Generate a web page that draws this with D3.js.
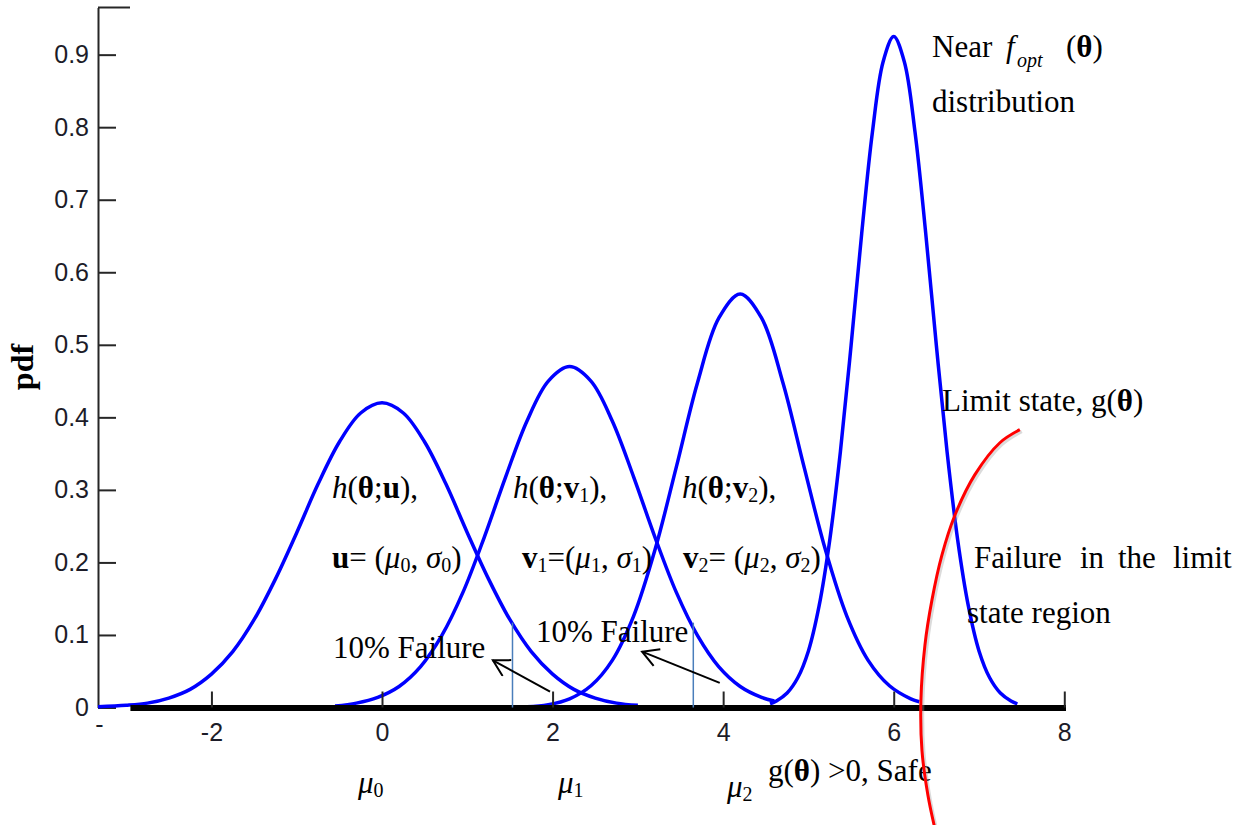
<!DOCTYPE html>
<html>
<head>
<meta charset="utf-8">
<script src="https://cdn.jsdelivr.net/npm/d3@7"></script>
<style>
  body { margin: 0; background: #fff; }
  svg { display: block; }
  .tick-label { font-family: "Liberation Sans", Arial, sans-serif; font-size: 25px; fill: #1c1c28; }
  .ann { font-family: "Liberation Serif", "Times New Roman", serif; font-size: 31px; fill: #000; }
</style>
</head>
<body>
<div id="viz"></div>
<script>
// tick values
const xTicks = [-2, 0, 2, 4, 6, 8];
const yTicks = [0, 0.1, 0.2, 0.3, 0.4, 0.5, 0.6, 0.7, 0.8, 0.9];

// h(theta; u)
const thetaU = [-3.33, -3, -2.75, -2.5, -2.25, -2, -1.75, -1.5, -1.25, -1, -0.75, -0.5, -0.25, 0,
  0.25, 0.5, 0.75, 1, 1.25, 1.5, 1.75, 2, 2.25, 2.5, 2.75, 3];
const pdfU = [0.001, 0.003, 0.006, 0.013, 0.025, 0.046, 0.077, 0.121, 0.177, 0.241, 0.308, 0.366, 0.406, 0.42,
  0.406, 0.366, 0.308, 0.241, 0.177, 0.121, 0.077, 0.046, 0.025, 0.013, 0.006, 0.003];

// h(theta; v1)
const thetaV1 = [-0.55, -0.3, -0.05, 0.2, 0.45, 0.7, 0.95, 1.2, 1.45, 1.7, 1.95, 2.2,
  2.45, 2.7, 2.95, 3.2, 3.45, 3.7, 3.95, 4.2, 4.45, 4.6];
const pdfV1 = [0.002, 0.006, 0.014, 0.029, 0.056, 0.099, 0.159, 0.235, 0.318, 0.395, 0.45, 0.47,
  0.45, 0.395, 0.318, 0.235, 0.159, 0.099, 0.056, 0.029, 0.014, 0.009];

// h(theta; v2)
const thetaV2 = [1.6, 1.7, 1.95, 2.2, 2.45, 2.7, 2.95, 3.2, 3.45, 3.7, 3.95, 4.2,
  4.45, 4.7, 4.95, 5.2, 5.45, 5.7, 5.95, 6.2, 6.3];
const pdfV2 = [0.001, 0.001, 0.004, 0.012, 0.03, 0.065, 0.126, 0.217, 0.331, 0.448, 0.537, 0.57,
  0.537, 0.448, 0.331, 0.217, 0.126, 0.065, 0.03, 0.012, 0.008];

// near f_opt
const thetaOpt = [4.55, 4.625, 4.75, 4.875, 5, 5.125, 5.25, 5.375, 5.5, 5.625, 5.75, 5.875, 6,
  6.125, 6.25, 6.375, 6.5, 6.625, 6.75, 6.875, 7, 7.125, 7.25, 7.375, 7.45];
const pdfOpt = [0.005, 0.009, 0.02, 0.041, 0.078, 0.14, 0.231, 0.353, 0.499, 0.654, 0.793, 0.89, 0.925,
  0.89, 0.793, 0.654, 0.499, 0.353, 0.231, 0.14, 0.078, 0.041, 0.02, 0.009, 0.005];

// limit state g(theta) = 0 (hand drawn red curve)
const thetaLimit = [7.479, 7.245, 6.952, 6.717, 6.565, 6.448, 6.366, 6.319, 6.331, 6.401, 6.483];
const pdfLimit = [0.383, 0.365, 0.321, 0.265, 0.21, 0.148, 0.086, 0.01, -0.059, -0.121, -0.167];

// 10% failure thresholds
const failTheta = [1.53, 3.65];
const failTop = 0.117;

const W = 1252, H = 825;

const svg = d3.select('#viz').append('svg')
  .attr('width', W)
  .attr('height', H)
  .style('background', '#fff');

const x = d3.scaleLinear().domain([-3.33, 8.02]).range([98, 1066]);
const y = d3.scaleLinear().domain([0, 0.965]).range([707.5, 7.5]);

const zip = (a, b) => a.map((v, i) => [v, b[i]]);

const line = d3.line()
  .x(d => x(d[0]))
  .y(d => y(d[1]))
  .curve(d3.curveCatmullRom);

// arrow head
svg.append('defs').append('marker')
  .attr('id', 'arrow')
  .attr('viewBox', '0 0 20 20')
  .attr('refX', 18).attr('refY', 10)
  .attr('markerUnits', 'userSpaceOnUse')
  .attr('markerWidth', 20).attr('markerHeight', 20)
  .attr('orient', 'auto')
  .append('path')
  .attr('d', 'M2,1L18,10L2,19')
  .attr('fill', 'none')
  .attr('stroke', '#000')
  .attr('stroke-width', 2);

// y axis (ticks pointing inwards)
const yAxis = svg.append('g')
  .attr('transform', `translate(${x.range()[0]},0)`)
  .call(d3.axisLeft(y)
    .tickValues(yTicks)
    .tickSizeInner(-18)
    .tickSizeOuter(0)
    .tickPadding(9)
    .tickFormat(d => d === 0 ? '0' : d3.format('.1f')(d)));
yAxis.select('.domain').attr('stroke', '#262626').attr('stroke-width', 2);
yAxis.selectAll('.tick line').attr('stroke', '#262626').attr('stroke-width', 2);
yAxis.selectAll('.tick text').attr('class', 'tick-label').attr('font-size', null).attr('font-family', null);

// little bit of the top box edge that is left
svg.append('line')
  .attr('x1', x.range()[0]).attr('x2', x.range()[0] + 32)
  .attr('y1', y.range()[1]).attr('y2', y.range()[1])
  .attr('stroke', '#262626').attr('stroke-width', 2);

// pdf curves
const curves = [zip(thetaU, pdfU), zip(thetaV1, pdfV1), zip(thetaV2, pdfV2), zip(thetaOpt, pdfOpt)];
svg.append('g').selectAll('path')
  .data(curves)
  .enter()
  .append('path')
  .attr('d', line)
  .attr('fill', 'none')
  .attr('stroke', '#0000ff')
  .attr('stroke-width', 3.5)
  .attr('stroke-linejoin', 'round');

// thick base line
svg.append('line')
  .attr('x1', x(-2.95)).attr('x2', x(8.02))
  .attr('y1', y(0) + 0.5).attr('y2', y(0) + 0.5)
  .attr('stroke', '#000').attr('stroke-width', 6);

// x axis
const xAxis = svg.append('g')
  .attr('transform', `translate(0,${y(0)})`)
  .call(d3.axisBottom(x)
    .tickValues(xTicks)
    .tickSizeInner(-16)
    .tickSizeOuter(0)
    .tickPadding(16)
    .tickFormat(d => String(d)));
xAxis.select('.domain').remove();
xAxis.selectAll('.tick line').attr('stroke', '#262626').attr('stroke-width', 2);
xAxis.selectAll('.tick text').attr('class', 'tick-label').attr('font-size', null).attr('font-family', null);

svg.append('text').attr('class', 'tick-label')
  .attr('x', 99.5).attr('y', 733)
  .attr('text-anchor', 'middle')
  .text('-');

// axis title
svg.append('text')
  .attr('transform', 'translate(33,367) rotate(-90)')
  .attr('text-anchor', 'middle')
  .style('font-family', '"Liberation Serif", "Times New Roman", serif')
  .style('font-size', '32px')
  .style('font-weight', 'bold')
  .text('pdf');

// 10% failure thresholds
svg.append('g').selectAll('line')
  .data(failTheta)
  .enter()
  .append('line')
  .attr('x1', d => x(d)).attr('x2', d => x(d))
  .attr('y1', y(failTop)).attr('y2', y(0))
  .attr('stroke', '#4a7ebb')
  .attr('stroke-width', 1.5);

// arrows
const arrows = [[[1.97, 0.022], [1.30, 0.065]], [[3.96, 0.034], [3.05, 0.077]]];
svg.append('g').selectAll('line')
  .data(arrows)
  .enter()
  .append('line')
  .attr('x1', d => x(d[0][0])).attr('y1', d => y(d[0][1]))
  .attr('x2', d => x(d[1][0])).attr('y2', d => y(d[1][1]))
  .attr('stroke', '#000')
  .attr('stroke-width', 2)
  .attr('marker-end', 'url(#arrow)');

// rich text helper: parts = [text, flags]
function rich(px, py, parts) {
  const t = svg.append('text').attr('class', 'ann').attr('x', px).attr('y', py);
  let low = false;
  parts.forEach(([txt, f = '']) => {
    const s = t.append('tspan').text(txt);
    if (f.includes('i')) s.style('font-style', 'italic');
    if (f.includes('b')) s.style('font-weight', 'bold');
    if (f.includes('s')) {
      s.style('font-size', '20px');
      if (!low) s.attr('dy', 4);
      low = true;
    } else if (low) {
      s.attr('dy', -4);
      low = false;
    }
  });
  return t;
}

rich(932, 57, [['Near']]);
rich(1006, 57, [['f', 'i']]);
rich(1017, 63, [['opt', 'is']]);
rich(1066, 57, [['('], ['θ', 'b'], [')']]);
rich(932, 112, [['distribution']]);

rich(942, 411, [['Limit state, g('], ['θ', 'b'], [')']]);
rich(974, 568, [['Failure']]);
rich(1080, 568, [['in']]);
rich(1118, 568, [['the']]);
rich(1173, 568, [['limit']]);
rich(967, 623, [['state region']]);

rich(332, 498, [['h', 'i'], ['('], ['θ', 'b'], [';'], ['u', 'b'], ['),']]);
rich(332, 568, [['u', 'b'], ['= ('], ['μ', 'i'], ['0', 's'], [', '], ['σ', 'i'], ['0', 's'], [')']]);
rich(513, 498, [['h', 'i'], ['('], ['θ', 'b'], [';'], ['v', 'b'], ['1', 's'], ['),']]);
rich(522, 568, [['v', 'b'], ['1', 's'], ['=('], ['μ', 'i'], ['1', 's'], [', '], ['σ', 'i'], ['1', 's'], [')']]);
rich(682, 498, [['h', 'i'], ['('], ['θ', 'b'], [';'], ['v', 'b'], ['2', 's'], ['),']]);
rich(683, 568, [['v', 'b'], ['2', 's'], ['= ('], ['μ', 'i'], ['2', 's'], [', '], ['σ', 'i'], ['2', 's'], [')']]);

rich(333, 658, [['10% Failure']]);
rich(536, 642, [['10% Failure']]);

rich(358, 793, [['μ', 'i'], ['0', 's']]);
rich(558, 793, [['μ', 'i'], ['1', 's']]);
rich(727, 797, [['μ', 'i'], ['2', 's']]);
rich(768, 781, [['g('], ['θ', 'b'], [') >0, Safe']]);

// limit state curve with a faint shadow, drawn on top
const limitPts = zip(thetaLimit, pdfLimit);
svg.append('path')
  .attr('d', d3.line().x(d => x(d[0]) + 2).y(d => y(d[1]) + 2).curve(d3.curveCatmullRom)(limitPts))
  .attr('fill', 'none')
  .attr('stroke', '#999')
  .attr('stroke-opacity', 0.35)
  .attr('stroke-width', 3);
svg.append('path')
  .attr('d', line(limitPts))
  .attr('fill', 'none')
  .attr('stroke', '#ff0000')
  .attr('stroke-width', 3);
</script>
</body>
</html>
